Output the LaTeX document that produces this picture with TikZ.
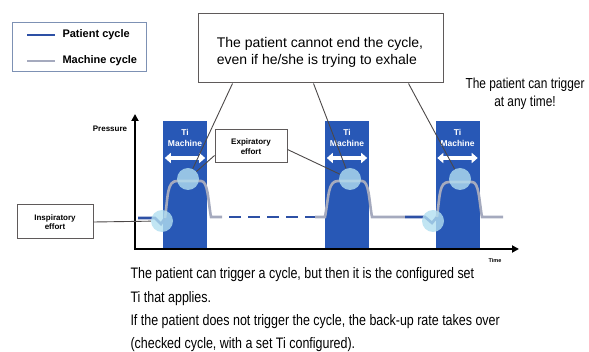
\documentclass[tikz,border=0pt]{standalone}
\usepackage{fontspec}
\setmainfont{Liberation Sans}
\newfontfamily\narrowfont[FakeStretch=0.82]{Liberation Sans}
\usetikzlibrary{arrows.meta}

\definecolor{patientblue}{RGB}{45,80,165}
\definecolor{machinegray}{RGB}{165,170,190}
\definecolor{barblue}{RGB}{40,88,182}
\definecolor{bubble}{RGB}{178,222,240}
\definecolor{boxline}{RGB}{95,90,90}
\definecolor{legendline}{RGB}{125,145,180}

\tikzset{
  infobox/.style={draw=boxline, line width=1pt, fill=white, align=center, inner sep=0pt},
  tibar/.style={fill=barblue, minimum width=44pt, minimum height=128pt, inner sep=0pt, anchor=north},
  bartext/.style={text=white, font=\bfseries\fontsize{8.5}{10.5}\selectfont, align=center},
  tiarrow/.style={white, line width=3.5pt, {Triangle[length=6pt,width=10pt]}-{Triangle[length=6pt,width=10pt]}},
  bubblenode/.style={circle, fill=bubble, fill opacity=0.8, minimum size=22pt, inner sep=0pt},
  pointer/.style={draw=boxline!80!black, line width=0.9pt},
  machine/.style={machinegray, line width=2.6pt},
  patient/.style={patientblue, line width=2.6pt},
  axis/.style={line width=2.4pt, {Triangle[length=7pt,width=7pt]}-{Triangle[length=7pt,width=7pt]}},
}

\begin{document}
\begin{tikzpicture}[x=1pt,y=-1pt]
    \useasboundingbox (0,0) rectangle (589,352);
    \node[draw=legendline, line width=1pt, minimum width=134pt, minimum height=49pt, inner sep=0pt] (legend) at (79,47.5) {};
    \draw[patient] (27,35) -- (55,35);
    \draw[machine] (27,61) -- (55,61);
    \node[anchor=west, font=\bfseries\fontsize{11}{13}\selectfont] (patlabel) at (59,35) {Patient cycle};
    \node[anchor=west, font=\bfseries\fontsize{11}{13}\selectfont] (maclabel) at (59,61) {Machine cycle};

    \node[infobox, minimum width=245pt, minimum height=69pt] (cannot) at (320.5,48.5) {};
    \node[align=left, font=\fontsize{14}{17}\selectfont] (cannottext) at (320,52.5) {The patient cannot end the cycle,\\even if he/she is trying to exhale};
    \node[align=center, font=\narrowfont\fontsize{14.5}{18}\selectfont] (anytime) at (525,94) {The patient can trigger\\at any time!};

    \node[tibar] (bar1) at (185,121) {};
    \node[tibar] (bar2) at (347,121) {};
    \node[tibar] (bar3) at (457.5,121) {};
    \node[bartext] (ti1) at (185,138) {Ti\\Machine};
    \node[bartext] (ti2) at (347,138) {Ti\\Machine};
    \node[bartext] (ti3) at (457.5,138) {Ti\\Machine};
    \draw[tiarrow] ([xshift=2pt,yshift=-37pt]bar1.north west) -- ([xshift=-2pt,yshift=-37pt]bar1.north east);
    \draw[tiarrow] ([xshift=2pt,yshift=-37pt]bar2.north west) -- ([xshift=-2pt,yshift=-37pt]bar2.north east);
    \draw[tiarrow] ([xshift=2pt,yshift=-37pt]bar3.north west) -- ([xshift=-2pt,yshift=-37pt]bar3.north east);

    \draw[patient] (138,218) -- (155,218) -- (161,224) -- (165,218);
    \draw[machine] (165,218) .. controls (168,196) and (167,181) .. (177,181) -- (201,181) .. controls (208,181) and (208,200) .. (211,217) -- (222,217);
    \draw[patient, dash pattern=on 12pt off 7pt] (229,217) -- (315,217);
    \draw[machine] (315,217) -- (325,217) .. controls (329,195) and (328,181) .. (338,181) -- (362,181) .. controls (369,181) and (369,200) .. (372,217) -- (405,217);
    \draw[patient] (405,217) -- (425,217) -- (432,223) -- (437,217);
    \draw[machine] (437,217) .. controls (440,195) and (439,182) .. (449,182) -- (472,182) .. controls (479,182) and (479,200) .. (482,217) -- (503,217);

    \node[bubblenode] (top1) at (188,179) {};
    \node[bubblenode] (top2) at (350,179) {};
    \node[bubblenode] (top3) at (460,179) {};
    \node[bubblenode] (trig1) at (162,221) {};
    \node[bubblenode] (trig3) at (433,221) {};

    \coordinate (origin) at (135,249);
    \coordinate (ptop) at (135,114);
    \coordinate (tend) at (519,249);
    \draw[axis] (ptop) -- (origin) -- (tend);
    \node[font=\bfseries\fontsize{8}{9}\selectfont] (pressure) at (110,129) {Pressure};
    \node[font=\bfseries\fontsize{5.5}{6}\selectfont] (time) at (495,261) {Time};

    \node[infobox, minimum width=72pt, minimum height=33pt, font=\bfseries\fontsize{8}{9.5}\selectfont] (expir) at (251,146.5) {Expiratory\\effort};
    \node[infobox, minimum width=76pt, minimum height=34pt, font=\bfseries\fontsize{8}{9.5}\selectfont] (inspir) at (55,222) {Inspiratory\\effort};

    \draw[pointer] ([xshift=-88pt]cannot.south) -- (top1);
    \draw[pointer] ([xshift=-7pt]cannot.south) -- (top2);
    \draw[pointer] ([xshift=88pt]cannot.south) -- (top3);
    \draw[pointer] ([yshift=-9pt]expir.west) -- (top1);
    \draw[pointer] ([yshift=-3pt]expir.east) -- (top2);
    \draw[pointer] (inspir.east) -- (trig1);

    \node[anchor=base west, align=left, font=\narrowfont\fontsize{15.2}{23.2}\selectfont] (note) at (127,348.6) {The patient can trigger a cycle, but then it is the configured set\\Ti that applies.\\If the patient does not trigger the cycle, the back-up rate takes over\\(checked cycle, with a set Ti configured).};
  \end{tikzpicture}
\end{document}
